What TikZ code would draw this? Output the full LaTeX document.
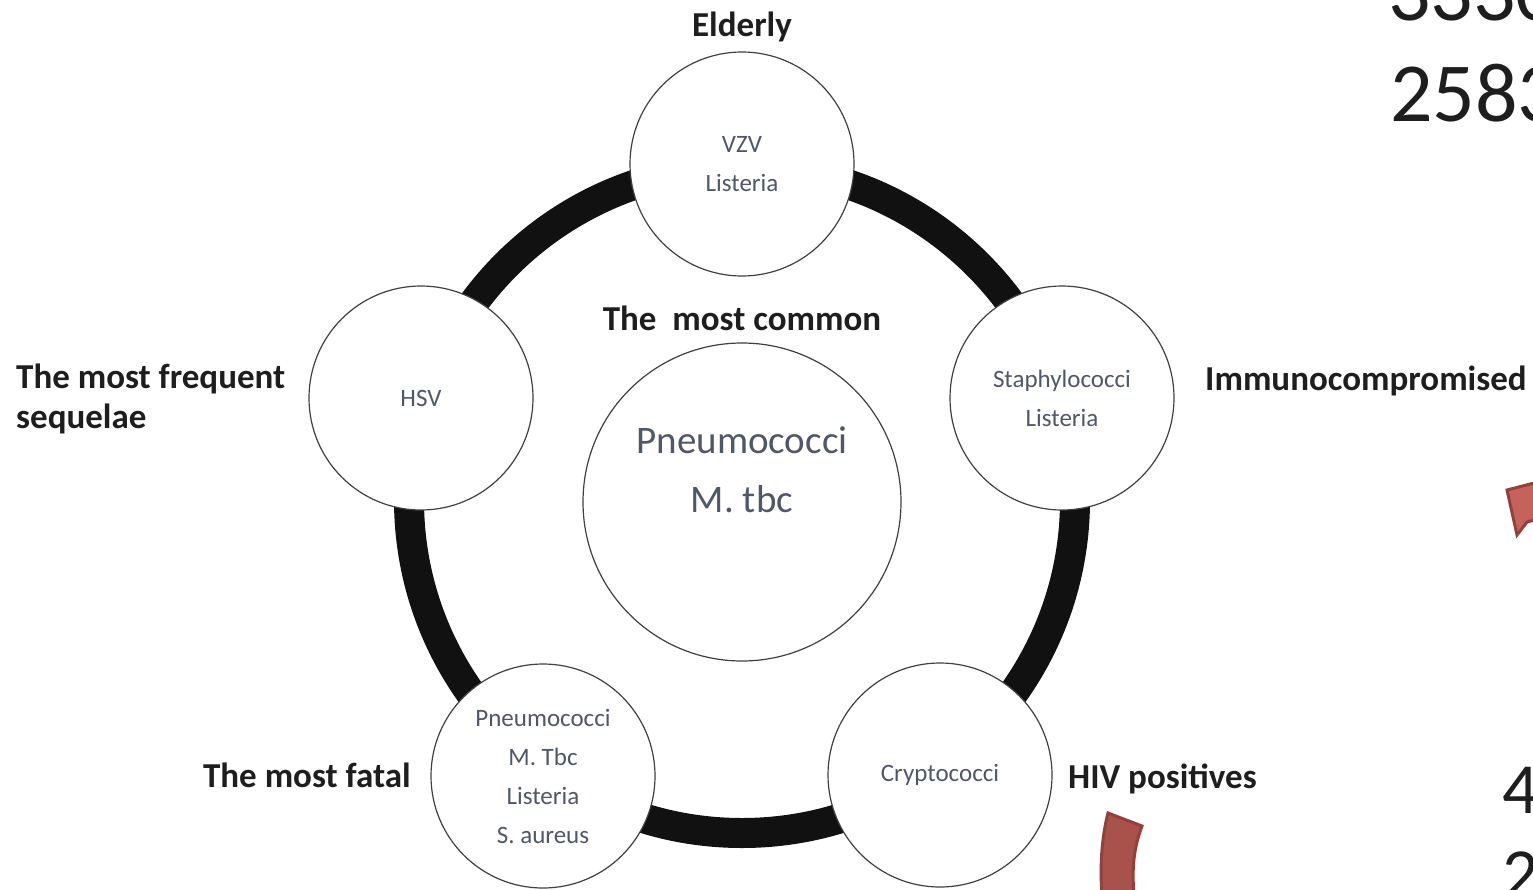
\documentclass[tikz,border=0pt]{standalone}
\usepackage{fontspec}
\setmainfont{Carlito}
\definecolor{ink}{HTML}{1E1E1E}
\definecolor{innerc}{HTML}{4E5868}
\definecolor{redfillA}{HTML}{C6625C}
\definecolor{redfillB}{HTML}{A9524C}
\definecolor{redline}{HTML}{94403B}
\definecolor{ringc}{HTML}{111111}
\begin{document}
\begin{tikzpicture}[x=1pt,y=-1pt,
  bubble/.style={circle,draw=black!75,line width=1.2pt,fill=white,minimum size=224pt,inner sep=0pt},
  bigbubble/.style={bubble,minimum size=318pt},
  lab/.style={font=\fontsize{35}{40}\selectfont\bfseries,text=ink,inner sep=0pt},
  smalltxt/.style={font=\fontsize{25}{39}\selectfont,text=innerc,align=center,inner sep=0pt},
  bigtxt/.style={font=\fontsize{39}{59}\selectfont,text=innerc,align=center,inner sep=0pt},
  slidetxt/.style={font=\fontsize{84}{100}\selectfont,text=ink,inner sep=0pt,anchor=base west},
  redshape/.style={draw=redline,line width=3pt,line join=miter}
]
\useasboundingbox (0,0) rectangle (1533,889);
% ring
\draw[ringc,line width=30pt] (742,500) circle[radius=333pt];
% bubbles
\node[bubble] (top) at (742,164) {};
\node[bubble] (right) at (1062,398) {};
\node[bubble] (bright) at (940,775) {};
\node[bubble] (bleft) at (543,776) {};
\node[bubble] (left) at (421,398) {};
\node[bigbubble] (center) at (742,502) {};
% bubble texts
\node[smalltxt] (ttop) at (top.center) {VZV\\Listeria};
\node[smalltxt] (tright) at (right.center) {Staphylococci\\Listeria};
\node[smalltxt] (tbright) at (bright.center) {Cryptococci};
\node[smalltxt] (tbleft) at (bleft.center) {Pneumococci\\M. Tbc\\Listeria\\S. aureus};
\node[smalltxt] (tleft) at (left.center) {HSV};
\node[bigtxt] (tcenter) at (742,470) {Pneumococci\\M. tbc};
% outer labels
\node[lab,anchor=base] (lelderly) at (742,36) {Elderly};
\node[lab,anchor=base] (lcommon) at (742,330) {The\ \ most common};
\node[lab,anchor=base west] (limmuno) at (1205,390) {Immunocompromised};
\node[lab,anchor=base west] (lhiv) at (1068,788) {HIV positives};
\node[lab,anchor=base east] (lfatal) at (411,787) {The most fatal};
\node[lab,anchor=base west] (lfreq1) at (16,388) {The most frequent};
\node[lab,anchor=base west] (lfreq2) at (16,428) {sequelae};
% partial slide content at the right edge
\node[slidetxt] (n1) at (1388,20) {3330};
\node[slidetxt] (n2) at (1390,121) {2583};
\node[slidetxt,font=\fontsize{72}{80}\selectfont] (n3) at (1502,813) {4};
\node[slidetxt,font=\fontsize{72}{80}\selectfont] (n4) at (1502,898) {2};
% red partial arrows
\filldraw[redshape,fill=redfillA] (1507,490) -- (1538,482) -- (1538,519) -- (1527,522) -- (1517,535) -- cycle;
\filldraw[redshape,fill=redfillB] (1108,813) -- (1142,826) .. controls (1133,850) and (1132,870) .. (1134,895) -- (1102,895) .. controls (1100,870) and (1101,840) .. (1108,813) -- cycle;
\end{tikzpicture}
\end{document}
